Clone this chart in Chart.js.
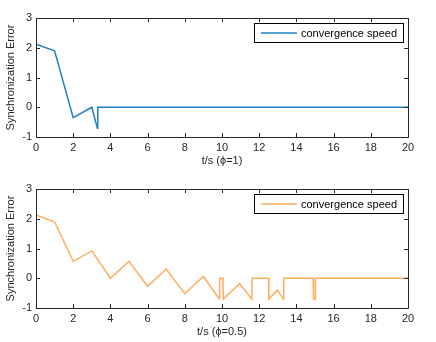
<!DOCTYPE html>
<html>
<head>
<meta charset="utf-8">
<script src="https://cdn.jsdelivr.net/npm/chart.js@4/dist/chart.umd.min.js"></script>
<style>
  html, body { margin: 0; padding: 0; background: #fff; }
  .box { width: 436px; height: 171px; position: relative; }
</style>
</head>
<body>
<div class="box"><canvas id="top"></canvas></div>
<div class="box"><canvas id="bottom"></canvas></div>
<script>
// data
var topT = [0, 1, 2, 3, 3.3, 3.32, 20];
var topErr = [2.12, 1.9, -0.35, 0, -0.71, 0, 0];

var botT = [0, 1, 2, 3, 4, 5, 6, 7, 8, 9, 9.85, 9.87, 10.05, 10.07, 10.95, 11.6, 11.62, 12.5, 12.52, 12.97, 13.3, 13.32, 14.9, 14.92, 15.0, 15.02, 20];
var botErr = [2.13, 1.89, 0.57, 0.92, 0, 0.57, -0.27, 0.31, -0.52, 0.06, -0.69, 0, 0, -0.7, -0.18, -0.7, 0, 0, -0.7, -0.4, -0.7, 0, 0, -0.7, -0.7, 0, 0];

var xTicks = [0, 2, 4, 6, 8, 10, 12, 14, 16, 18, 20];
var yTicks = [-1, 0, 1, 2, 3];
var legendLabel = 'convergence speed';

var axisColor = '#262626';
var font = '"Liberation Sans", Arial, sans-serif';

function pts(xs, ys) {
    var out = [];
    for (var i = 0; i < xs.length; i++) out.push({x: xs[i], y: ys[i]});
    return out;
}

// matlab style box with inward ticks
var frame = {
    id: 'frame',
    afterDatasetsDraw: function(chart) {
        var ctx = chart.ctx, a = chart.chartArea;
        var xs = chart.scales.x, ys = chart.scales.y;
        ctx.save();
        ctx.strokeStyle = axisColor;
        ctx.lineWidth = 1;
        ctx.beginPath();
        ctx.rect(Math.round(a.left) + 0.5, Math.round(a.top) + 0.5, Math.round(a.right - a.left), Math.round(a.bottom - a.top));
        xTicks.forEach(function(v) {
            var p = Math.round(xs.getPixelForValue(v)) + 0.5;
            ctx.moveTo(p, a.bottom); ctx.lineTo(p, a.bottom - 4);
            ctx.moveTo(p, a.top); ctx.lineTo(p, a.top + 4);
        });
        yTicks.forEach(function(v) {
            var p = Math.round(ys.getPixelForValue(v)) + 0.5;
            ctx.moveTo(a.left, p); ctx.lineTo(a.left + 4, p);
            ctx.moveTo(a.right, p); ctx.lineTo(a.right - 4, p);
        });
        ctx.stroke();

        // legend box in the top right corner
        var ds = chart.data.datasets[0];
        var bw = 149, bh = 19;
        var bx = Math.round(a.right) - 5 - bw, by = Math.round(a.top) + 5;
        ctx.fillStyle = '#fff';
        ctx.fillRect(bx, by, bw, bh);
        ctx.strokeStyle = '#000';
        ctx.strokeRect(bx + 0.5, by + 0.5, bw, bh);
        ctx.strokeStyle = ds.borderColor;
        ctx.lineWidth = 1.5;
        ctx.beginPath();
        ctx.moveTo(bx + 7, by + 10);
        ctx.lineTo(bx + 43, by + 10);
        ctx.stroke();
        ctx.fillStyle = '#000';
        ctx.font = '11px ' + font;
        ctx.textBaseline = 'middle';
        ctx.fillText(ds.label, bx + 47, by + 10.5);
        ctx.restore();
    }
};

function makeChart(id, data, color, xTitle) {
    return new Chart(document.getElementById(id), {
        type: 'scatter',
        data: {
            datasets: [{
                label: legendLabel,
                data: data,
                showLine: true,
                borderColor: color,
                borderWidth: 1.5,
                pointRadius: 0,
                tension: 0
            }]
        },
        options: {
            responsive: true,
            maintainAspectRatio: false,
            animation: false,
            layout: { padding: { left: 0, right: 28, top: 18, bottom: 0 } },
            plugins: { legend: { display: false }, tooltip: { enabled: false } },
            scales: {
                x: {
                    type: 'linear', min: 0, max: 20,
                    afterBuildTicks: function(s) { s.ticks = xTicks.map(function(v) { return {value: v}; }); },
                    afterFit: function(s) { s.height = 34; },
                    grid: { display: false, drawTicks: false },
                    border: { display: false },
                    ticks: { color: axisColor, font: { family: font, size: 11 }, padding: 4, maxRotation: 0 },
                    title: { display: true, text: xTitle, color: axisColor, font: { family: font, size: 11 }, padding: { top: 0, bottom: 3 } }
                },
                y: {
                    min: -1, max: 3,
                    afterBuildTicks: function(s) { s.ticks = yTicks.map(function(v) { return {value: v}; }); },
                    afterFit: function(s) { s.width = 36; },
                    grid: { display: false, drawTicks: false },
                    border: { display: false },
                    ticks: { color: axisColor, font: { family: font, size: 11 }, padding: 4 },
                    title: { display: true, text: 'Synchronization Error', color: axisColor, font: { family: font, size: 11 }, padding: { top: 4, bottom: 0 } }
                }
            }
        },
        plugins: [frame]
    });
}

makeChart('top', pts(topT, topErr), '#1f80c6', 't/s (\u03d5=1)');
makeChart('bottom', pts(botT, botErr), '#ffad5c', 't/s (\u03d5=0.5)');
</script>
</body>
</html>
